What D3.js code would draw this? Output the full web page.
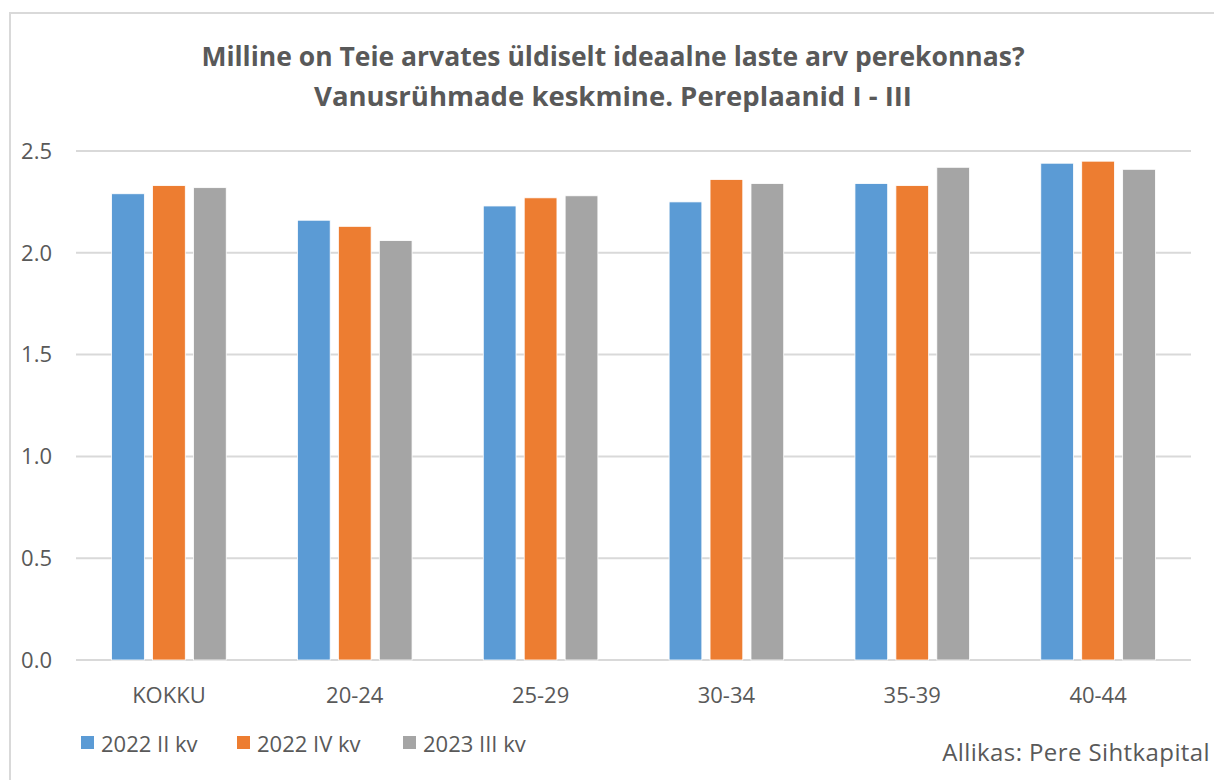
<!DOCTYPE html>
<html>
<head>
<meta charset="utf-8">
<script src="https://cdn.jsdelivr.net/npm/d3@7"></script>
<style>
  body { margin: 0; background: #fff; }
  text { font-family: "Open Sans", sans-serif; fill: #595959; }
</style>
</head>
<body>
<div id="chart"></div>
<script>
var categories = ["KOKKU", "20-24", "25-29", "30-34", "35-39", "40-44"];
var seriesNames = ["2022 II kv", "2022 IV kv", "2023 III kv"];
var colors = ["#5b9bd5", "#ed7d31", "#a5a5a5"];
var s2022II = [2.29, 2.16, 2.23, 2.25, 2.34, 2.44];
var s2022IV = [2.33, 2.13, 2.27, 2.36, 2.33, 2.45];
var s2023III = [2.32, 2.06, 2.28, 2.34, 2.42, 2.41];
var yTicks = [0, 0.5, 1.0, 1.5, 2.0, 2.5];

var values = [s2022II, s2022IV, s2023III];
var width = 1214, height = 780;

var svg = d3.select("#chart").append("svg")
  .attr("width", width)
  .attr("height", height);

// outer chart border
svg.append("rect")
  .attr("x", 10).attr("y", 13)
  .attr("width", 1220).attr("height", 800)
  .style("fill", "none")
  .style("stroke", "#d9d9d9")
  .style("stroke-width", 2);

// title
svg.append("text")
  .attr("x", 613).attr("y", 66)
  .attr("text-anchor", "middle")
  .style("font-size", "26.5px").style("font-weight", "bold")
  .text("Milline on Teie arvates üldiselt ideaalne laste arv perekonnas?");
svg.append("text")
  .attr("x", 613).attr("y", 106)
  .attr("text-anchor", "middle")
  .style("font-size", "27.5px").style("font-weight", "bold")
  .text("Vanusrühmade keskmine. Pereplaanid I - III");

var x0 = d3.scaleBand()
  .domain(categories)
  .range([76, 1191])
  .padding(0);

var x1 = d3.scaleBand()
  .domain(d3.range(seriesNames.length))
  .range([0, x0.bandwidth()])
  .paddingInner(0.2)
  .paddingOuter(0.87);

var y = d3.scaleLinear()
  .domain([0, 2.5])
  .range([660, 151]);

// gridlines
svg.append("g")
  .selectAll("line")
  .data(yTicks)
  .enter()
  .append("line")
  .attr("x1", 76).attr("x2", 1191)
  .attr("y1", function(d) { return y(d); })
  .attr("y2", function(d) { return y(d); })
  .style("stroke", "#d9d9d9")
  .style("stroke-width", 2);

// y labels
svg.append("g")
  .selectAll("text")
  .data(yTicks)
  .enter()
  .append("text")
  .attr("x", 52)
  .attr("y", function(d) { return y(d); })
  .attr("dy", "0.35em")
  .attr("text-anchor", "end")
  .style("font-size", "22px")
  .text(function(d) { return d.toFixed(1); });

// bars
var groups = svg.append("g")
  .selectAll("g")
  .data(categories)
  .enter()
  .append("g")
  .attr("transform", function(d) { return "translate(" + x0(d) + ",0)"; });

groups.selectAll("rect")
  .data(function(d, i) {
    return values.map(function(s, j) { return { series: j, value: s[i] }; });
  })
  .enter()
  .append("rect")
  .attr("x", function(d) { return x1(d.series); })
  .attr("y", function(d) { return y(d.value); })
  .attr("width", x1.bandwidth())
  .attr("height", function(d) { return y(0) - y(d.value); })
  .style("fill", function(d) { return colors[d.series]; })
  .style("stroke", "#fff")
  .style("stroke-width", 0.8);

// category labels
svg.append("g")
  .selectAll("text")
  .data(categories)
  .enter()
  .append("text")
  .attr("x", function(d) { return x0(d) + x0.bandwidth() / 2; })
  .attr("y", 703)
  .attr("text-anchor", "middle")
  .style("font-size", "22px")
  .text(function(d) { return d; });

// legend
var legendX = [81, 237, 403];
var legend = svg.append("g")
  .selectAll("g")
  .data(seriesNames)
  .enter()
  .append("g")
  .attr("transform", function(d, i) { return "translate(" + legendX[i] + ",736)"; });

legend.append("rect")
  .attr("width", 13).attr("height", 13)
  .style("fill", function(d, i) { return colors[i]; });

legend.append("text")
  .attr("x", 20).attr("y", 16)
  .style("font-size", "22px")
  .text(function(d) { return d; });

// source
svg.append("text")
  .attr("x", 1210).attr("y", 761)
  .attr("text-anchor", "end")
  .style("font-size", "24px")
  .style("letter-spacing", "0.4px")
  .text("Allikas: Pere Sihtkapital");
</script>
</body>
</html>
